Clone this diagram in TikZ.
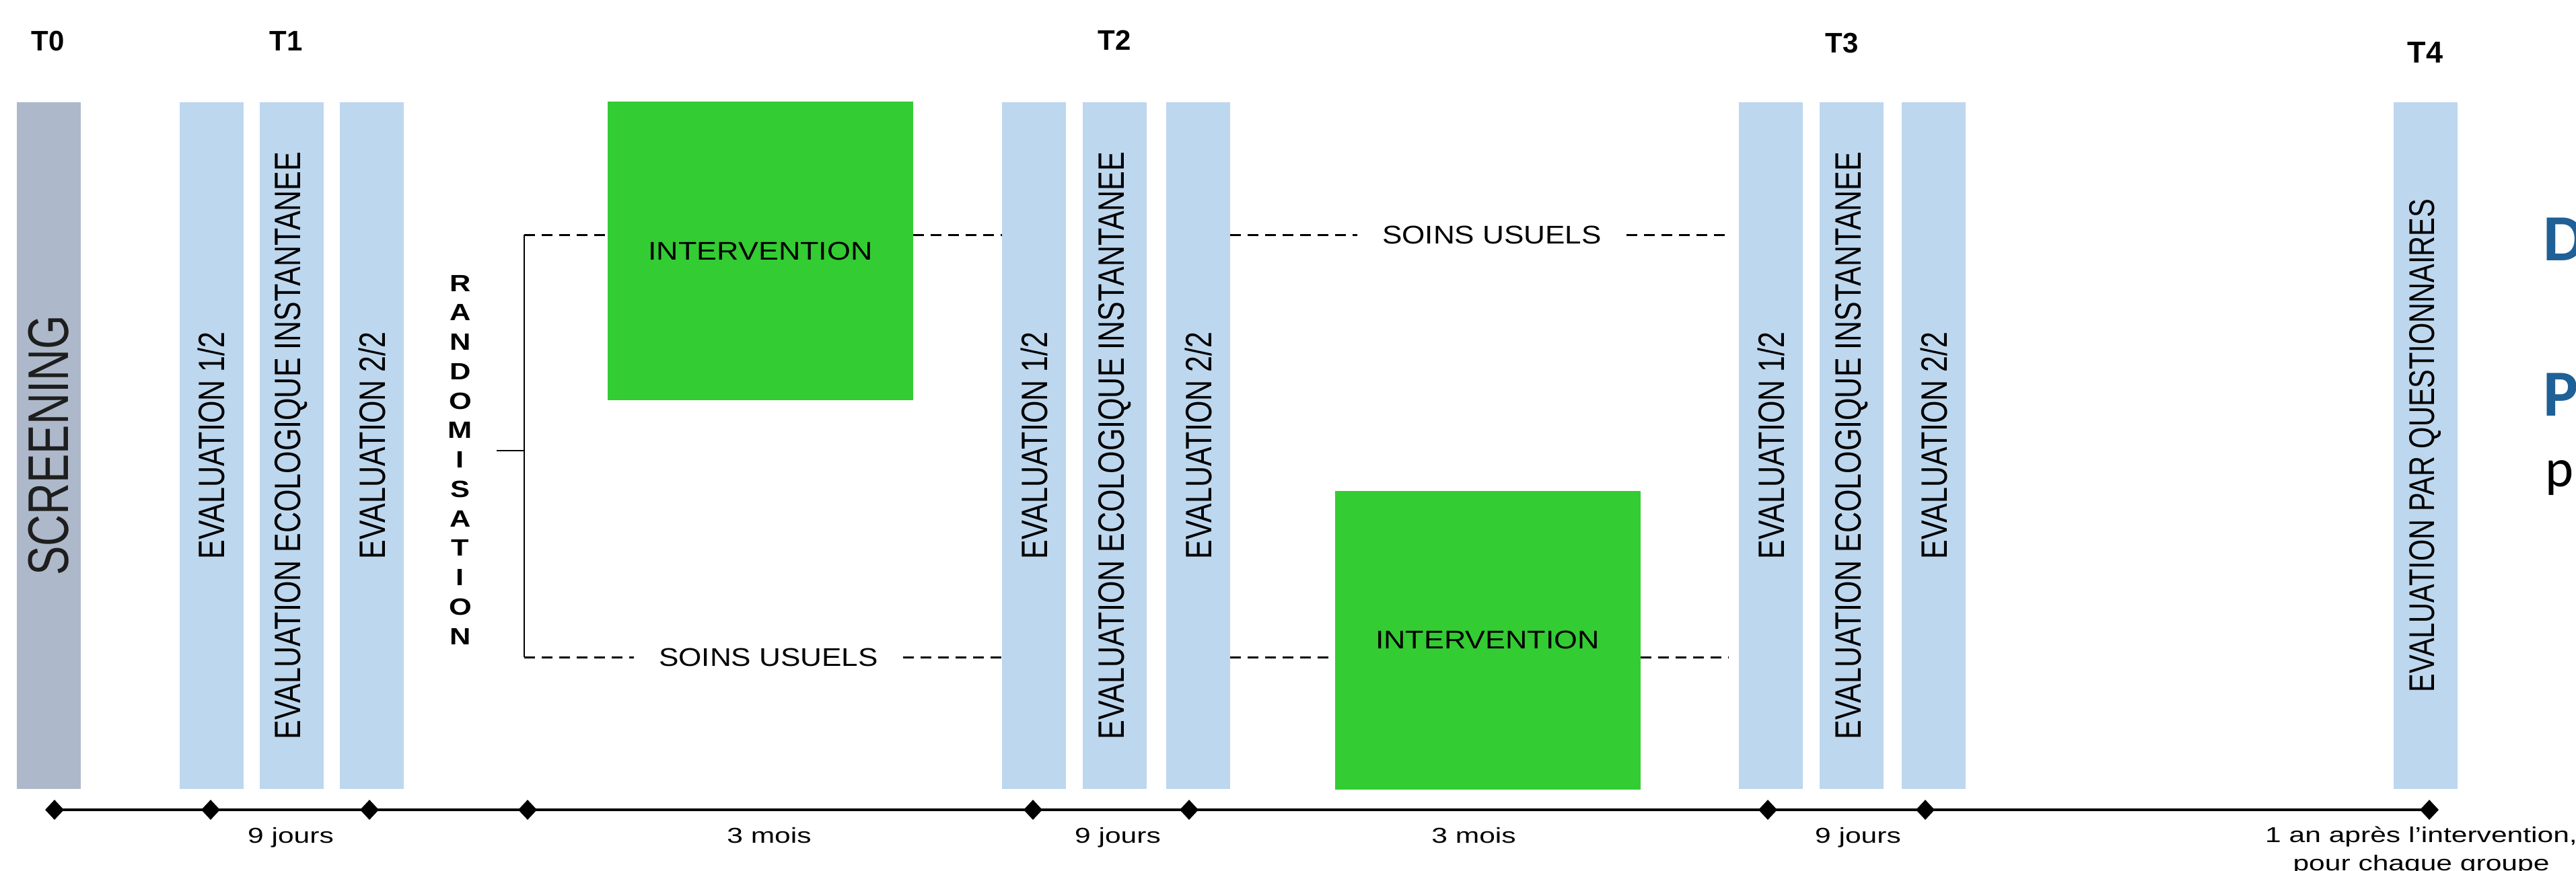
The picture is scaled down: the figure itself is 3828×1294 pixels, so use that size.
\documentclass[tikz,border=0pt]{standalone}
\usepackage{fontspec}
\setmainfont{Liberation Sans}
\newfontfamily\calib{Carlito}
\usetikzlibrary{shapes.geometric}
\definecolor{barblue}{HTML}{BDD7EE}
\definecolor{scrgrey}{HTML}{ADB9CA}
\definecolor{grn}{HTML}{33CC33}
\definecolor{dblue}{HTML}{1F6096}
\definecolor{txtdark}{HTML}{1E1E1E}
\newcommand{\myfs}[1]{\fontsize{#1}{#1}\selectfont}
\begin{document}
\begin{tikzpicture}[x=1pt,y=-1pt,
 bar/.style={fill=barblue, draw=none, minimum width=95pt, minimum height=1021pt, inner sep=0pt},
 scrbar/.style={bar, fill=scrgrey},
 intbox/.style={fill=grn, draw=none, minimum width=454pt, minimum height=444pt, inner sep=0pt, font=\myfs{38}},
 vlab/.style={rotate=90, inner sep=0pt, font=\myfs{43}},
 tlab/.style={inner sep=0pt, font=\bfseries\myfs{42}},
 rlet/.style={inner sep=0pt, font=\bfseries\myfs{35}},
 soins/.style={inner xsep=37pt, inner ysep=2pt, font=\myfs{38}},
 dsh/.style={line width=3pt, dash pattern=on 16pt off 10pt},
 brk/.style={line width=2pt},
 dmd/.style={diamond, fill=black, draw=none, minimum width=28pt, minimum height=30pt, inner sep=0pt},
 tline/.style={line width=3.5pt},
 tmlab/.style={anchor=base, inner sep=0pt, font=\myfs{32}},
]
\fill[white] (0,0) rectangle (3828,1294);
\useasboundingbox (0,0) rectangle (3828,1294);

% time labels
\node[tlab] (t0) at (71,61) {T0};
\node[tlab] (t1) at (425,61) {T1};
\node[tlab] (t2) at (1656,60) {T2};
\node[tlab] (t3) at (2737,64) {T3};
\node[tlab, font=\bfseries\myfs{45}] (t4) at (3604,78) {T4};

% bars
\node[scrbar] (scr) at (72,662.5) {};
\node[vlab, text=txtdark, font=\myfs{65}] (scrt) at (scr.center) {\scalebox{1}[1.31]{SCREENING}};

\node[bar] (e11) at (314,662.5) {};
\node[bar] (eco1) at (433,662.5) {};
\node[bar] (e21) at (552.5,662.5) {};
\node[bar] (e12) at (1536.5,662.5) {};
\node[bar] (eco2) at (1656.5,662.5) {};
\node[bar] (e22) at (1780.5,662.5) {};
\node[bar] (e13) at (2631.5,662.5) {};
\node[bar] (eco3) at (2751.5,662.5) {};
\node[bar] (e23) at (2873.5,662.5) {};
\node[bar] (t4b) at (3604,662.5) {};

\foreach \b in {e11,e12,e13}
  \node[vlab] (\b t) at (\b) {\scalebox{1}[1.27]{EVALUATION 1/2}};
\foreach \b in {e21,e22,e23}
  \node[vlab] (\b t) at (\b) {\scalebox{1}[1.27]{EVALUATION 2/2}};
\foreach \b in {eco1,eco2,eco3}
  \node[vlab] (\b t) at (\b) {\scalebox{1}[1.27]{EVALUATION ECOLOGIQUE INSTANTANEE}};
\node[vlab, font=\myfs{41.5}] (t4t) at (t4b) {\scalebox{1}[1.28]{EVALUATION PAR QUESTIONNAIRES}};

% intervention boxes
\node[intbox] (g1) at (1130,373) {\scalebox{1.18}[1]{INTERVENTION}};
\node[intbox] (g2) at (2210.5,951.5) {\scalebox{1.18}[1]{INTERVENTION}};

% randomisation
\foreach \l [count=\i from 0] in {R,A,N,D,O,M,I,S,A,T,I,O,N}
  \node[rlet] (r\i) at (684,421+43.75*\i) {\scalebox{1.24}[1]{\l}};

% bracket
\coordinate (bt) at (779,349);
\coordinate (bb) at (779,977);
\coordinate (stub) at (738,670);
\draw[brk] (stub) -- (stub -| bt);
\draw[brk] (bt) -- (bb);

% usual care labels
\node[soins] (su1) at (1142,977) {\scalebox{1.16}[1]{SOINS USUELS}};
\node[soins] (su2) at (2217,349) {\scalebox{1.16}[1]{SOINS USUELS}};

\coordinate (e13in) at ([xshift=-15pt]e13.west);

% top arm
\draw[dsh] (bt) -- (g1.west |- bt);
\draw[dsh] (g1.east |- bt) -- (e12.west |- bt);
\draw[dsh] (e22.east |- bt) -- (su2.west);
\draw[dsh] (su2.east) -- (e13in |- bt);
% bottom arm
\draw[dsh] (bb) -- (su1.west);
\draw[dsh] (su1.east) -- (e12.west |- bb);
\draw[dsh] (e22.east |- bb) -- (g2.west |- bb);
\draw[dsh] (g2.east |- bb) -- (e13in |- bb);

% timeline
\foreach \x [count=\i] in {81,313,549,784,1535,1767,2627,2861,3610}
  \node[dmd] (d\i) at (\x,1204) {};
\draw[tline] (d1.center) -- (d9.center);

\node[tmlab] (l1) at (432,1253) {\scalebox{1.33}[1]{9 jours}};
\node[tmlab] (l2) at (1143,1253) {\scalebox{1.33}[1]{3 mois}};
\node[tmlab] (l3) at (1661,1253) {\scalebox{1.33}[1]{9 jours}};
\node[tmlab] (l4) at (2190,1253) {\scalebox{1.33}[1]{3 mois}};
\node[tmlab] (l5) at (2761,1253) {\scalebox{1.33}[1]{9 jours}};
\node[tmlab] (l6) at (3598,1252) {\scalebox{1.33}[1]{1 an après l’intervention,}};
\node[tmlab] (l7) at (3598,1294) {\scalebox{1.33}[1]{pour chaque groupe}};

% cut-off slide text at right edge
\node[anchor=base west, inner sep=0pt, text=dblue, font=\calib\bfseries\myfs{98}] (rd) at (3779,387) {D};
\node[anchor=base west, inner sep=0pt, text=dblue, font=\calib\bfseries\myfs{98}] (rp) at (3779,618) {P};
\node[anchor=base west, inner sep=0pt, text=black, font=\calib\myfs{80}] (rpp) at (3782,723) {p};
\end{tikzpicture}
\end{document}
